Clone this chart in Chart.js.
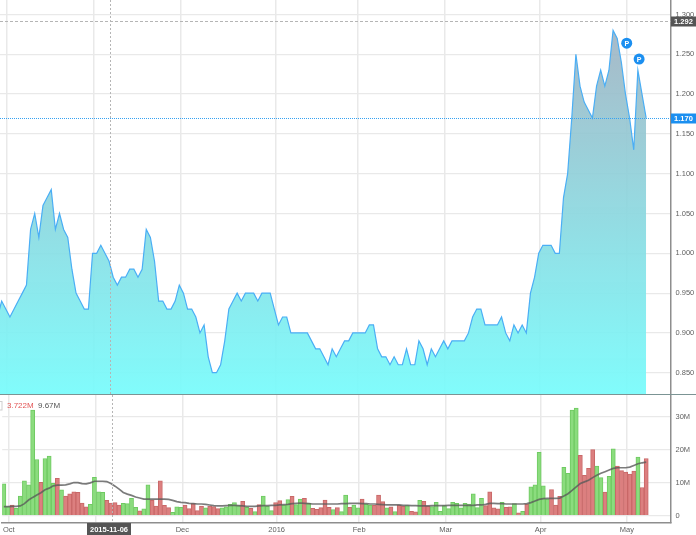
<!DOCTYPE html>
<html>
<head>
<meta charset="utf-8">
<title>Price and volume</title>
<script src="https://cdn.jsdelivr.net/npm/chart.js@4/dist/chart.umd.js"></script>
<style>
body { margin: 0; background: #fff; overflow: hidden; }
canvas { position: absolute; left: 0; display: block; }
#priceChart { top: 0; }
#volChart { top: 395px; }
</style>
</head>
<body>
<canvas id="priceChart" width="696" height="395"></canvas>
<canvas id="volChart" width="696" height="140"></canvas>
<script>
// first price is one session before the left edge of the chart
const prices = [0.92,
    0.94,0.93,0.92,0.93,0.94,0.95,0.96,1.03,1.05,1.02,
    1.06,1.07,1.08,1.03,1.05,1.03,1.02,0.98,0.95,0.94,
    0.93,0.93,1.00,1.00,1.01,1.00,0.99,0.97,0.96,0.97,
    0.97,0.98,0.98,0.97,0.98,1.03,1.02,0.99,0.94,0.94,
    0.93,0.93,0.94,0.96,0.95,0.93,0.93,0.92,0.90,0.91,
    0.87,0.85,0.85,0.86,0.89,0.93,0.94,0.95,
    0.94,0.95,0.95,0.95,0.94,0.95,0.95,0.95,
    0.93,0.91,0.92,0.92,0.90,0.90,0.90,0.90,0.90,
    0.89,0.88,0.88,0.87,0.86,0.88,0.87,0.88,0.89,0.89,
    0.90,0.90,0.90,0.90,0.91,0.91,0.88,0.87,0.87,0.86,
    0.87,0.86,0.86,0.88,0.86,0.86,0.89,0.88,0.86,0.88,
    0.87,0.88,0.89,0.88,0.89,0.89,0.89,0.89,0.90,
    0.92,0.93,0.93,0.91,0.91,0.91,0.91,0.92,0.90,0.89,
    0.91,0.90,0.91,0.90,0.95,0.97,1.00,1.01,1.01,1.01,
    1.00,1.00,1.07,1.10,1.17,1.25,1.21,1.19,1.18,1.17,
    1.21,1.23,1.21,1.23,1.28,1.27,1.24,1.20,1.17,1.13,
    1.23,1.20,1.17];

// volume in millions
const volumes = [
    9.6,2.7,3.2,2.2,5.9,10.5,9.3,32,17,10.1,
    17.3,18,9.8,11.3,7.8,5.9,6.6,7.2,7.0,3.8,
    2.6,3.4,11.6,7.2,7.0,4.6,3.8,3.9,3.2,3.7,
    3.6,5.2,2.5,1.4,2.0,9.3,4.6,2.9,10.5,3.1,
    2.4,1.0,2.6,2.5,3.2,2.1,3.6,1.5,2.9,2.3,
    2.9,2.7,2.1,2.3,2.6,3.4,3.9,3.0,4.3,2.5,
    2.2,1.2,3.3,5.9,2.8,1.5,3.9,4.5,3.2,4.8,
    5.8,3.3,5.0,5.2,3.8,2.2,1.9,2.4,4.7,2.5,
    1.8,2.4,1.2,6.2,
    2.5,3.2,2.3,5.0,3.5,3.2,3.1,6.2,4.2,2.3,
    2.6,1.2,3.2,2.9,3.0,1.3,1.1,4.6,4.3,2.9,
    2.7,4.0,1.3,3.0,2.1,4.0,3.7,2.3,3.7,3.5,
    6.6,2.4,5.2,3.0,7.2,2.3,2.0,4.0,2.5,2.6,
    3.6,0.8,1.3,3.5,8.7,9.3,19.2,9.0,5.0,7.9,
    3.2,5.8,14.6,12.8,32,32.6,18.3,12.2,14.3,20,
    15,11.5,7.1,11.9,20.2,15,13.6,13.2,12.6,13.5,
    17.7,8.5,17.3];

// 1 = green bar, 0 = red bar
const volUp = [
    1,1,0,1,1,1,1,1,1,0,
    1,1,1,0,1,0,0,0,0,0,
    0,1,1,1,1,0,0,0,0,1,
    1,1,1,0,1,1,0,0,0,0,
    0,1,1,1,0,0,0,0,0,1,
    0,0,0,1,1,1,1,1,0,1,
    0,1,0,1,1,1,0,0,1,1,
    0,1,1,0,1,0,0,0,0,0,
    1,0,1,1,
    0,1,1,0,1,1,0,0,0,1,
    0,1,0,0,1,0,0,1,0,0,
    1,1,1,1,1,1,1,1,1,1,
    1,1,1,0,0,0,0,1,0,0,
    1,0,1,0,1,1,1,1,1,0,
    0,0,1,1,1,1,0,0,0,0,
    1,1,0,1,1,0,0,0,0,0,
    1,0,0];

// moving average of volume, millions
const volAvg = [
    2.7,2.7,2.8,2.8,2.9,
    3.6,4.7,5.5,6.2,6.9,
    7.8,8.3,9.0,9.2,9.2,
    9.3,9.6,10.0,10.0,9.7,
    9.6,9.9,10.4,10.4,10.4,
    10.3,9.7,8.9,8.0,7.0,
    6.5,6.1,5.6,5.3,5.0,
    5.0,5.0,5.0,5.0,5.0,
    4.9,4.6,4.2,4.0,3.9,
    3.7,3.6,3.5,3.5,3.4,
    3.2,3.0,2.9,2.9,3.0,
    3.1,3.1,3.0,2.9,2.8,
    2.8,2.8,2.9,3.0,3.0,
    3.1,3.1,3.2,3.3,3.4,
    3.6,3.7,3.8,3.7,3.6,
    3.5,3.5,3.5,3.5,3.5,
    3.5,3.5,3.6,3.6,3.7,
    3.7,3.7,3.6,3.6,3.5,
    3.5,3.4,3.3,3.2,3.2,
    3.2,3.2,3.1,3.1,3.0,
    3.0,2.9,2.9,2.9,3.0,
    3.0,3.0,3.0,3.1,3.1,
    3.1,3.1,3.1,3.1,3.1,3.2,3.2,3.4,
    3.7,3.7,3.6,3.6,3.5,3.5,3.5,3.5,3.5,
    3.6,3.9,4.4,4.9,5.1,5.2,5.2,5.2,5.3,5.9,
    6.6,7.6,8.7,9.7,10.2,10.7,11.5,12.2,12.8,13.3,
    13.8,14.3,14.5,14.5,14.5,14.7,15.2,15.7,16.0,16.2];

const priceTicks = [0.85,0.90,0.95,1.00,1.05,1.10,1.15,1.20,1.25,1.30];
const volTicks = [0,10,20,30];

// sessions where the date axis has a label
const dateLabels = ['Oct','Nov','Dec','2016','Feb','Mar','Apr','May'];
const dateSlots = [1.21,22.2,43.34,66.26,86.3,107.3,130.35,151.3];

const cursorSlot = 26.16;
const cursorDate = '2015-11-06';
const highPrice = 1.292;
const lastPrice = 1.17;
const pinSlots = [151.3,154.3];
const pinPrices = [1.264,1.244];
const volLabelLast = '3.722M';
const volLabelAvg = '9.67M';

const FONT = '"Liberation Sans", Arial, sans-serif';
const textGray = '#5f5f5f';
const gridGray = '#e9e9e9';
const axisGray = '#8e8e8e';

function boxLabel(ctx, x, y, w, h, color, text, font) {
    ctx.fillStyle = color;
    ctx.fillRect(x, y, w, h);
    ctx.fillStyle = '#fff';
    ctx.font = font;
    ctx.textAlign = 'center';
    ctx.textBaseline = 'middle';
    ctx.fillText(text, x + w / 2, y + h / 2 + 0.5);
}

function dashLine(ctx, x1, y1, x2, y2, color, dash) {
    ctx.save();
    ctx.strokeStyle = color;
    ctx.lineWidth = 1;
    ctx.setLineDash(dash);
    ctx.beginPath();
    ctx.moveTo(x1, y1);
    ctx.lineTo(x2, y2);
    ctx.stroke();
    ctx.restore();
}

// keep the right axis from shrinking the pane for its first and last label
function fitRightAxis(axis) {
    axis.width = 25.5;
    axis.paddingTop = 0;
    axis.paddingBottom = 0;
    axis._margins = { left: 0, right: 0, top: 0, bottom: 0 };
}

const xScale = {
    type: 'linear',
    min: -0.404,
    max: 161.9,
    offset: false,
    afterBuildTicks: axis => { axis.ticks = dateSlots.map(v => ({ value: v })); },
    afterFit: axis => { axis.height = 0; },
    grid: { color: gridGray, lineWidth: 1.5, drawTicks: false, offset: false },
    border: { display: false },
    ticks: { display: false }
};

const priceOverlay = {
    id: 'priceOverlay',
    afterDatasetsDraw(chart) {
        const ctx = chart.ctx;
        const sx = chart.scales.x, sy = chart.scales.y;
        const right = chart.chartArea.right;
        const cx = Math.round(sx.getPixelForValue(cursorSlot)) + 0.5;
        const hy = Math.round(sy.getPixelForValue(highPrice)) + 0.5;
        const ly = Math.round(sy.getPixelForValue(lastPrice)) + 0.5;
        dashLine(ctx, cx, 0, cx, 395, '#b5b5b5', [2, 2]);
        dashLine(ctx, 0, hy, right, hy, '#b5b5b5', [3, 2]);
        dashLine(ctx, 0, ly, right, ly, '#35a2f2', [1, 1]);
        // bottom edge of the pane
        ctx.fillStyle = '#7b9494';
        ctx.fillRect(0, 394, 696, 1.2);
        boxLabel(ctx, 671, hy - 5, 25, 10, '#555', highPrice.toFixed(3), 'bold 7.5px ' + FONT);
        boxLabel(ctx, 671, ly - 5, 25, 10, '#1b8ff0', lastPrice.toFixed(3), 'bold 7.5px ' + FONT);
        // letter on the pins
        ctx.fillStyle = '#fff';
        ctx.font = 'bold 7px ' + FONT;
        ctx.textAlign = 'center';
        ctx.textBaseline = 'middle';
        pinSlots.forEach((s, i) => {
            ctx.fillText('P', sx.getPixelForValue(s), sy.getPixelForValue(pinPrices[i]) + 0.5);
        });
    }
};

const volOverlay = {
    id: 'volOverlay',
    afterDatasetsDraw(chart) {
        const ctx = chart.ctx;
        const sx = chart.scales.x;
        const cx = Math.round(sx.getPixelForValue(cursorSlot)) + 0.5;
        dashLine(ctx, cx, 0, cx, chart.chartArea.bottom, '#b5b5b5', [2, 2]);
        ctx.strokeStyle = '#cfcfcf';
        ctx.strokeRect(-4, 6.5, 6, 8.5);
        ctx.font = '8px ' + FONT;
        ctx.textAlign = 'left';
        ctx.textBaseline = 'middle';
        ctx.fillStyle = '#e25555';
        ctx.fillText(volLabelLast, 7, 11);
        ctx.fillStyle = '#555';
        ctx.fillText(volLabelAvg, 38, 11);
        boxLabel(ctx, 87, 128, 44, 12, '#555', cursorDate, 'bold 7.5px ' + FONT);
    }
};

new Chart(document.getElementById('priceChart'), {
    type: 'line',
    data: {
        datasets: [{
            data: prices.map((p, i) => ({ x: i - 1, y: p })),
            borderColor: '#4aaef5',
            borderWidth: 1.2,
            pointRadius: 0,
            tension: 0,
            fill: 'start',
            backgroundColor: c => {
                const g = c.chart.ctx.createLinearGradient(0, 20, 0, 395);
                g.addColorStop(0, 'rgba(160,176,192,0.9)');
                g.addColorStop(1, 'rgba(118,252,252,0.92)');
                return g;
            }
        }, {
            data: pinSlots.map((s, i) => ({ x: s, y: pinPrices[i] })),
            showLine: false,
            pointRadius: 5.5,
            pointBackgroundColor: '#1b8ff0',
            pointBorderWidth: 0
        }]
    },
    options: {
        responsive: false,
        animation: false,
        devicePixelRatio: 1,
        layout: { padding: 0, autoPadding: false },
        plugins: { legend: { display: false }, tooltip: { enabled: false } },
        scales: {
            x: xScale,
            y: {
                position: 'right',
                min: 0.822,
                max: 1.3182,
                afterBuildTicks: axis => { axis.ticks = priceTicks.map(v => ({ value: v })); },
                afterFit: fitRightAxis,
                grid: { color: gridGray, lineWidth: 1.2, drawTicks: false },
                border: { color: axisGray, width: 1.5 },
                ticks: {
                    color: textGray,
                    padding: 5,
                    font: { family: FONT, size: 7.5 },
                    callback: v => v.toFixed(3)
                }
            }
        }
    },
    plugins: [priceOverlay]
});

new Chart(document.getElementById('volChart'), {
    data: {
        datasets: [{
            type: 'line',
            data: volAvg.map((v, i) => ({ x: i, y: v })),
            borderColor: 'rgba(90,90,90,0.8)',
            borderWidth: 1.7,
            pointRadius: 0,
            tension: 0
        }, {
            type: 'bar',
            data: volumes.map((v, i) => ({ x: i, y: v })),
            barPercentage: 1,
            categoryPercentage: 1,
            borderWidth: 1,
            backgroundColor: volUp.map(u => u ? '#8bdc7e' : '#dc7f7f'),
            borderColor: volUp.map(u => u ? '#6fca62' : '#c96868')
        }]
    },
    options: {
        responsive: false,
        animation: false,
        devicePixelRatio: 1,
        layout: { padding: 0, autoPadding: false },
        plugins: { legend: { display: false }, tooltip: { enabled: false } },
        scales: {
            x: Object.assign({}, xScale, {
                afterFit: axis => { axis.height = 12.5; },
                afterTickToLabelConversion: axis => {
                    axis.ticks.forEach((t, i) => { t.label = dateLabels[i]; });
                },
                border: { display: true, color: axisGray, width: 1.5 },
                ticks: {
                    display: true,
                    color: textGray,
                    padding: 3,
                    maxRotation: 0,
                    autoSkip: false,
                    font: { family: FONT, size: 7.5 }
                }
            }),
            y: {
                position: 'right',
                min: -2.12,
                max: 36.57,
                afterBuildTicks: axis => { axis.ticks = volTicks.map(v => ({ value: v })); },
                afterFit: fitRightAxis,
                grid: { color: gridGray, lineWidth: 1.2, drawTicks: false },
                border: { color: axisGray, width: 1.5 },
                ticks: {
                    color: textGray,
                    padding: 5,
                    font: { family: FONT, size: 7.5 },
                    callback: v => v === 0 ? '0' : v + 'M'
                }
            }
        }
    },
    plugins: [volOverlay]
});
</script>
</body>
</html>
